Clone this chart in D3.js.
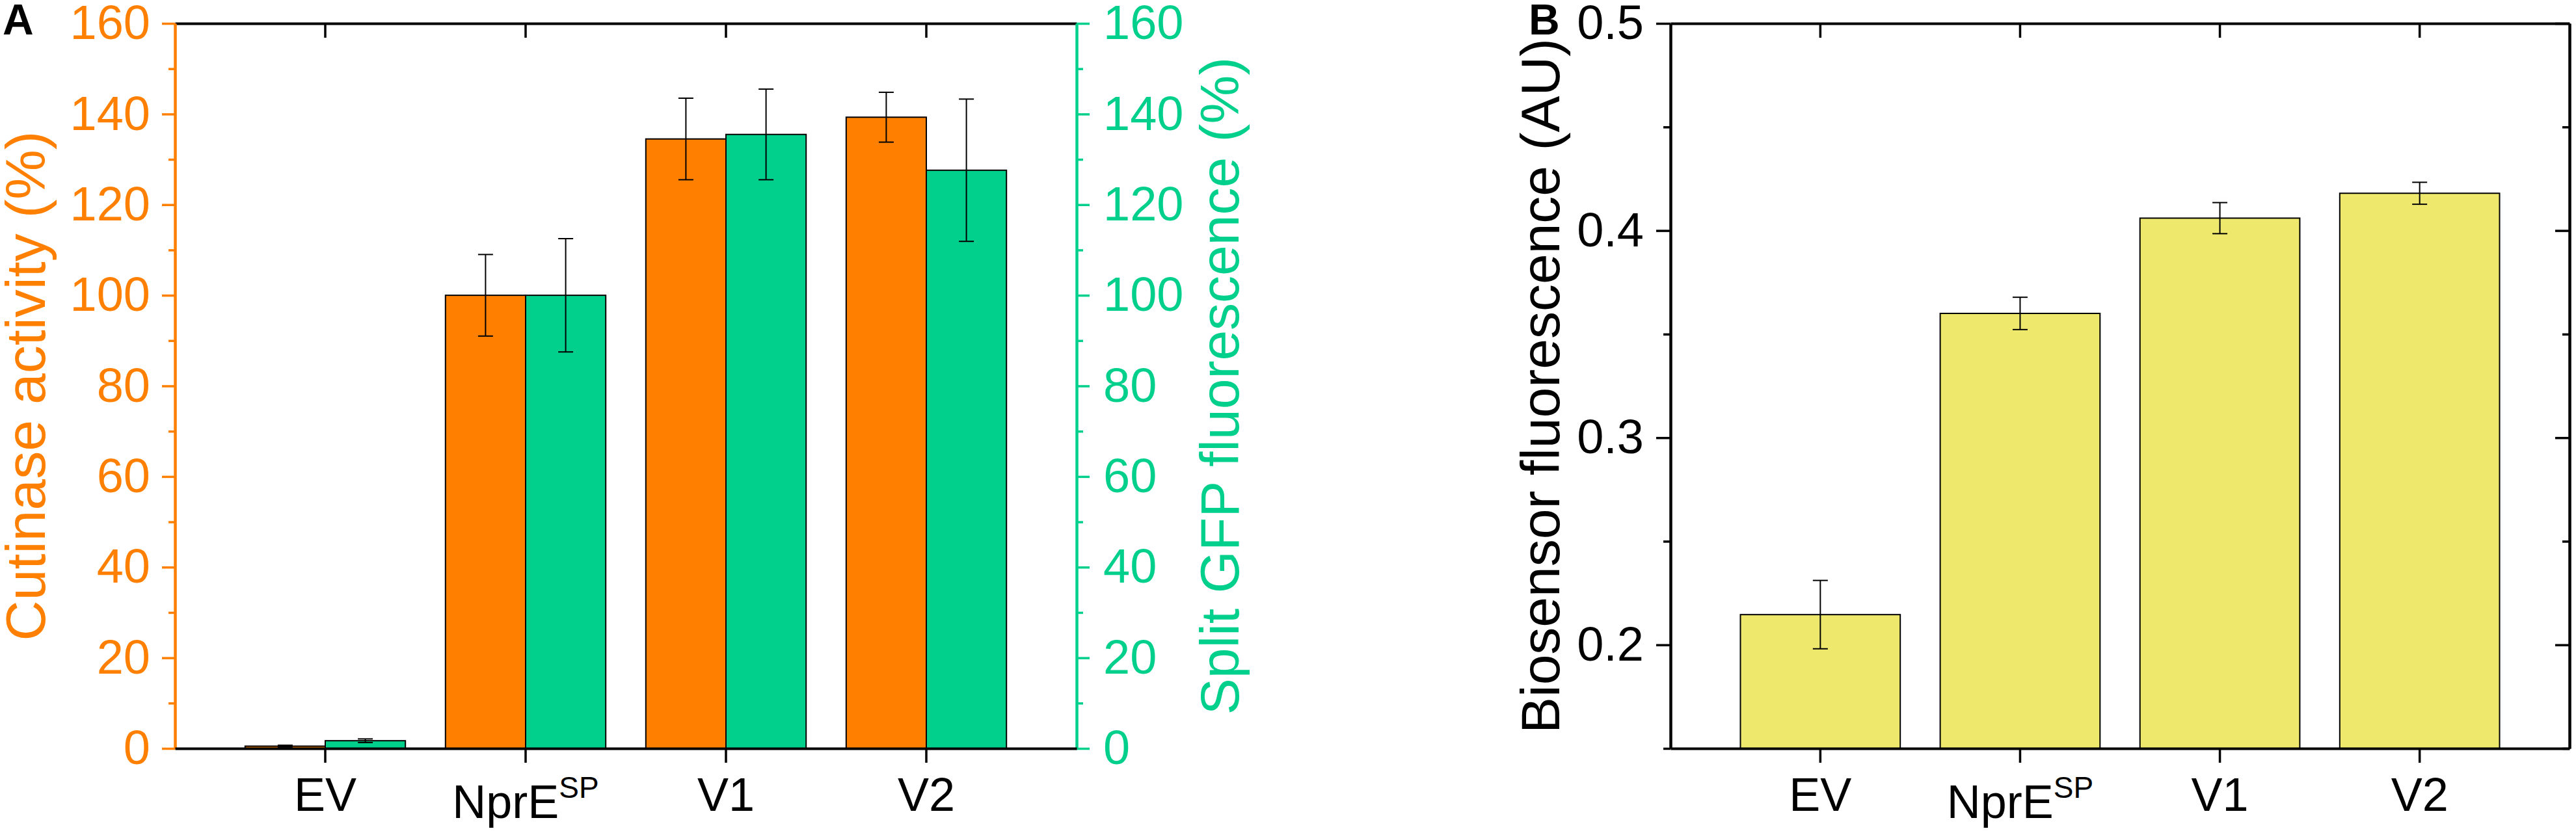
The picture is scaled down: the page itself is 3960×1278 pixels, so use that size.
<!DOCTYPE html>
<html>
<head>
<meta charset="utf-8">
<script src="https://cdn.jsdelivr.net/npm/d3@7"></script>
<style>
  body { margin: 0; background: #fff; }
  svg { display: block; font-family: "Liberation Sans", Arial, sans-serif; }
</style>
</head>
<body>
<svg id="chart" width="3960" height="1278"></svg>
<script>
const categories = ['EV', 'NprE', 'V1', 'V2'];
const categorySup = ['', 'SP', '', ''];

// panel A
const cutinase = [0.5, 100, 134.5, 139.3];
const cutinaseErr = [0.2, 9, 9, 5.5];
const splitGfp = [1.7, 100, 135.5, 127.6];
const splitGfpErr = [0.4, 12.5, 10, 15.7];
const ticksA = [0, 20, 40, 60, 80, 100, 120, 140, 160];
const minorTicksA = [10, 30, 50, 70, 90, 110, 130, 150];

// panel B
const biosensor = [0.2146, 0.360, 0.406, 0.418];
const biosensorErr = [0.0165, 0.0078, 0.0075, 0.0053];
const ticksB = [0.2, 0.3, 0.4, 0.5];
const minorTicksB = [0.15, 0.25, 0.35, 0.45];

const styles = {
  orange: '#FF8000',
  green: '#00D08B',
  yellow: '#EEE86D',
  axisWidth: 4,
  tickWidth: 3.5,
  barStroke: 2,
  errWidth: 2,
  capWidth: 23,
  tickFont: 74,
  catFont: 72
};

const svg = d3.select('#chart');
const plotTop = 36, plotBottom = 1151;

function styleAxis(g, color) {
  g.select('.domain').attr('stroke', color).attr('stroke-width', styles.axisWidth);
  g.selectAll('.tick line').attr('stroke', color).attr('stroke-width', styles.tickWidth);
  g.selectAll('.tick text')
    .attr('fill', color)
    .style('font-size', styles.tickFont + 'px')
    .style('font-family', '"Liberation Sans", Arial, sans-serif');
  return g;
}

function categoryLabels(g, x) {
  const half = x.bandwidth() / 2;
  g.selectAll('.catlabel')
    .data(categories)
    .enter()
    .append('text')
    .classed('catlabel', true)
    .attr('x', d => x(d) + half)
    .attr('y', (d, i) => categorySup[i] ? 1258 : 1247)
    .attr('text-anchor', 'middle')
    .style('font-size', styles.catFont + 'px')
    .attr('fill', '#000')
    .each(function (d, i) {
      const t = d3.select(this);
      t.append('tspan').text(d);
      if (categorySup[i]) {
        t.append('tspan').text(categorySup[i]).attr('dy', -31).style('font-size', '46px');
      }
    });
}

function errorBars(g, xs, vals, errs, y) {
  const eb = g.selectAll(null).data(vals).enter().append('g');
  eb.append('line')
    .attr('x1', (d, i) => xs[i]).attr('x2', (d, i) => xs[i])
    .attr('y1', (d, i) => y(d - errs[i])).attr('y2', (d, i) => y(d + errs[i]));
  eb.append('line')
    .attr('x1', (d, i) => xs[i] - styles.capWidth / 2).attr('x2', (d, i) => xs[i] + styles.capWidth / 2)
    .attr('y1', (d, i) => y(d + errs[i])).attr('y2', (d, i) => y(d + errs[i]));
  eb.append('line')
    .attr('x1', (d, i) => xs[i] - styles.capWidth / 2).attr('x2', (d, i) => xs[i] + styles.capWidth / 2)
    .attr('y1', (d, i) => y(d - errs[i])).attr('y2', (d, i) => y(d - errs[i]));
  eb.selectAll('line').attr('stroke', '#000').attr('stroke-width', styles.errWidth);
}

// ---------- Panel A ----------
const leftA = 269, rightA = 1655;
const xA = d3.scaleBand().domain(categories).range([leftA, rightA]).paddingInner(0).paddingOuter(0.25);
const yA = d3.scaleLinear().domain([0, 160]).range([plotBottom, plotTop]);
const stepA = xA.step();
const barA = stepA * 0.4;

const gA = svg.append('g');

gA.selectAll('.orange')
  .data(cutinase)
  .enter()
  .append('rect')
  .attr('x', (d, i) => xA(categories[i]) + stepA / 2 - barA)
  .attr('y', d => yA(d))
  .attr('width', barA)
  .attr('height', d => yA(0) - yA(d))
  .style('fill', styles.orange)
  .attr('stroke', '#000').attr('stroke-width', styles.barStroke);

gA.selectAll('.green')
  .data(splitGfp)
  .enter()
  .append('rect')
  .attr('x', (d, i) => xA(categories[i]) + stepA / 2)
  .attr('y', d => yA(d))
  .attr('width', barA)
  .attr('height', d => yA(0) - yA(d))
  .style('fill', styles.green)
  .attr('stroke', '#000').attr('stroke-width', styles.barStroke);

errorBars(gA, categories.map(c => xA(c) + stepA / 2 - barA / 2), cutinase, cutinaseErr, yA);
errorBars(gA, categories.map(c => xA(c) + stepA / 2 + barA / 2), splitGfp, splitGfpErr, yA);

// top axis, ticks inward
gA.append('g').attr('transform', `translate(0,${plotTop})`)
  .call(d3.axisTop(xA).tickSize(-22).tickSizeOuter(0).tickFormat(''))
  .call(g => styleAxis(g, '#000'));

// minor ticks left / right
gA.append('g').attr('transform', `translate(${leftA},0)`)
  .call(d3.axisLeft(yA).tickValues(minorTicksA).tickSize(10).tickSizeOuter(0).tickFormat(''))
  .call(g => styleAxis(g, styles.orange));
gA.append('g').attr('transform', `translate(${rightA},0)`)
  .call(d3.axisRight(yA).tickValues(minorTicksA).tickSize(10).tickSizeOuter(0).tickFormat(''))
  .call(g => styleAxis(g, styles.green));

gA.append('g').attr('transform', `translate(${leftA},0)`)
  .call(d3.axisLeft(yA).tickValues(ticksA).tickSize(20).tickSizeOuter(0).tickPadding(18))
  .call(g => styleAxis(g, styles.orange));
gA.append('g').attr('transform', `translate(${rightA},0)`)
  .call(d3.axisRight(yA).tickValues(ticksA).tickSize(20).tickSizeOuter(0).tickPadding(21))
  .call(g => styleAxis(g, styles.green));

gA.append('g').attr('transform', `translate(0,${plotBottom})`)
  .call(d3.axisBottom(xA).tickSize(22).tickSizeOuter(0).tickFormat(''))
  .call(g => styleAxis(g, '#000'));

categoryLabels(gA, xA);

gA.append('text')
  .attr('transform', `translate(69,${(plotTop + plotBottom) / 2}) rotate(-90)`)
  .attr('text-anchor', 'middle')
  .attr('fill', styles.orange)
  .style('font-size', '86px')
  .text('Cutinase activity (%)');

gA.append('text')
  .attr('transform', `translate(1904,${(plotTop + plotBottom) / 2}) rotate(-90)`)
  .attr('text-anchor', 'middle')
  .attr('fill', styles.green)
  .style('font-size', '84px')
  .text('Split GFP fluorescence (%)');

svg.append('text')
  .attr('x', 4).attr('y', 53)
  .style('font-size', '66px').style('font-weight', 'bold')
  .text('A');

// ---------- Panel B ----------
const leftB = 2568, rightB = 3950;
const xB = d3.scaleBand().domain(categories).range([leftB, rightB]).paddingInner(0).paddingOuter(0.25);
const yB = d3.scaleLinear().domain([0.15, 0.5]).range([plotBottom, plotTop]);
const stepB = xB.step();
const barB = stepB * 0.8;

const gB = svg.append('g');

gB.selectAll('.bar')
  .data(biosensor)
  .enter()
  .append('rect')
  .attr('x', (d, i) => xB(categories[i]) + (stepB - barB) / 2)
  .attr('y', d => yB(d))
  .attr('width', barB)
  .attr('height', d => yB(0.15) - yB(d))
  .style('fill', styles.yellow)
  .attr('stroke', '#000').attr('stroke-width', styles.barStroke);

errorBars(gB, categories.map(c => xB(c) + stepB / 2), biosensor, biosensorErr, yB);

gB.append('g').attr('transform', `translate(0,${plotTop})`)
  .call(d3.axisTop(xB).tickSize(-22).tickSizeOuter(0).tickFormat(''))
  .call(g => styleAxis(g, '#000'));

gB.append('g').attr('transform', `translate(${rightB},0)`)
  .call(d3.axisRight(yB).tickValues(minorTicksB).tickSize(-11).tickSizeOuter(0).tickFormat(''))
  .call(g => styleAxis(g, '#000'));
gB.append('g').attr('transform', `translate(${rightB},0)`)
  .call(d3.axisRight(yB).tickValues(ticksB).tickSize(-22).tickSizeOuter(0).tickFormat(''))
  .call(g => styleAxis(g, '#000'));

gB.append('g').attr('transform', `translate(${leftB},0)`)
  .call(d3.axisLeft(yB).tickValues(minorTicksB).tickSize(11).tickSizeOuter(0).tickFormat(''))
  .call(g => styleAxis(g, '#000'));
gB.append('g').attr('transform', `translate(${leftB},0)`)
  .call(d3.axisLeft(yB).tickValues(ticksB).tickSize(22).tickSizeOuter(0).tickPadding(19).tickFormat(d3.format('.1f')))
  .call(g => styleAxis(g, '#000'));

gB.append('g').attr('transform', `translate(0,${plotBottom})`)
  .call(d3.axisBottom(xB).tickSize(22).tickSizeOuter(0).tickFormat(''))
  .call(g => styleAxis(g, '#000'));

categoryLabels(gB, xB);

gB.append('text')
  .attr('transform', `translate(2397,${(plotTop + plotBottom) / 2}) rotate(-90)`)
  .attr('text-anchor', 'middle')
  .attr('fill', '#000')
  .style('font-size', '84px')
  .text('Biosensor fluorescence (AU)');

svg.append('text')
  .attr('x', 2350).attr('y', 53)
  .style('font-size', '66px').style('font-weight', 'bold')
  .text('B');
</script>
</body>
</html>
